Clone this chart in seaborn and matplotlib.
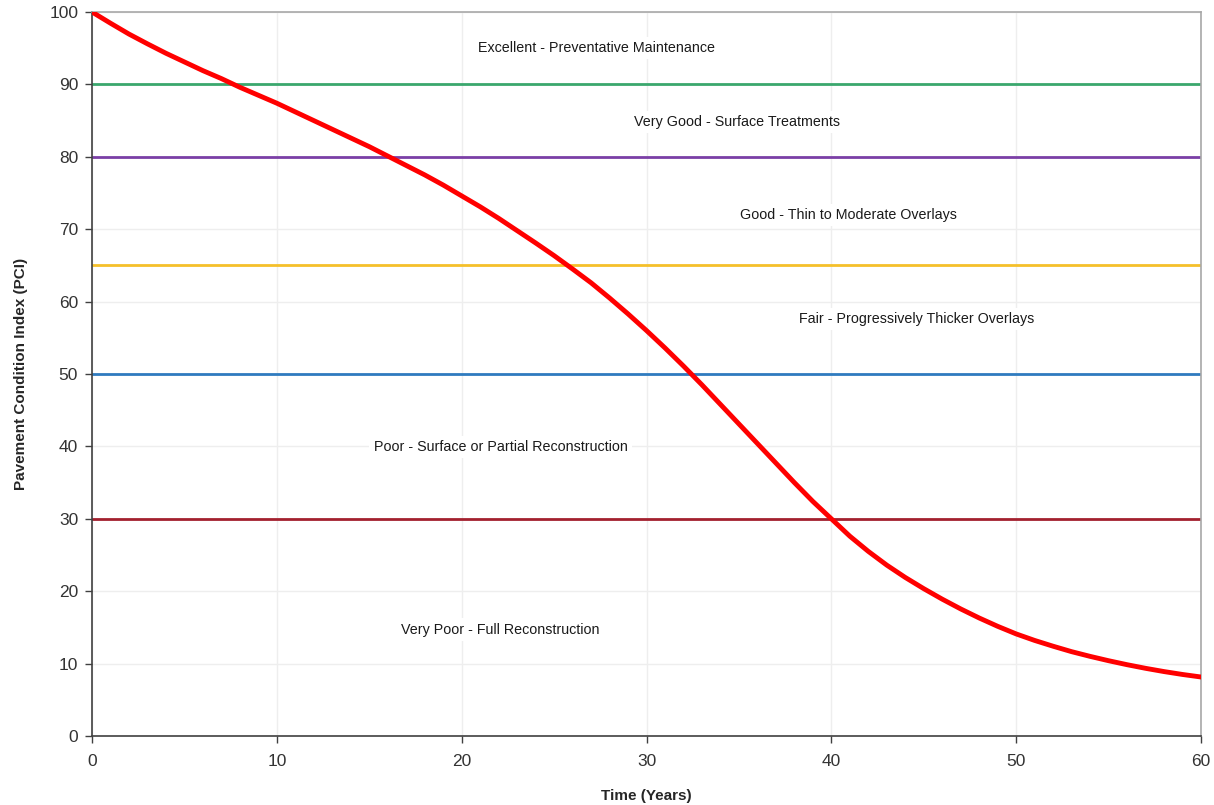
import matplotlib
matplotlib.use("Agg")
import matplotlib.pyplot as plt
import seaborn as sns
import pandas as pd

# Data (one value per year)
years = list(range(0, 61))
pci = [100.0, 98.45, 96.95, 95.6, 94.3, 93.1, 91.9, 90.8, 89.6, 88.5,
       87.4, 86.2, 85.0, 83.8, 82.6, 81.4, 80.1, 78.8, 77.5, 76.1,
       74.6, 73.1, 71.5, 69.8, 68.1, 66.35, 64.5, 62.6, 60.5, 58.3,
       56.0, 53.6, 51.1, 48.5, 45.8, 43.1, 40.4, 37.7, 35.0, 32.4,
       30.0, 27.6, 25.5, 23.6, 21.9, 20.35, 18.9, 17.55, 16.3, 15.15,
       14.1, 13.2, 12.4, 11.65, 11.0, 10.4, 9.85, 9.35, 8.9, 8.5, 8.15]

thresholds = [90, 80, 65, 50, 30]
threshold_colors = ["#3aa76d", "#7b3fa6", "#f5c02a", "#2f7bbf", "#a3202e"]

zone_labels = ["Excellent - Preventative Maintenance",
               "Very Good - Surface Treatments",
               "Good - Thin to Moderate Overlays",
               "Fair - Progressively Thicker Overlays",
               "Poor - Surface or Partial Reconstruction",
               "Very Poor - Full Reconstruction"]
label_x = [27.3, 34.9, 40.9, 44.6, 22.1, 22.1]
label_y = [95.0, 84.8, 72.0, 57.6, 39.9, 14.7]

x_ticks = [0, 10, 20, 30, 40, 50, 60]
y_ticks = [0, 10, 20, 30, 40, 50, 60, 70, 80, 90, 100]

sns.set_theme(style="white")
plt.rcParams['font.family'] = ['Liberation Sans', 'DejaVu Sans']

fig = plt.figure(figsize=(12.14, 8.05), dpi=100)
ax = fig.add_axes([0.0758, 0.0857, 0.9893 - 0.0758, 0.9851 - 0.0857])

ax.set_xlim(0, 60)
ax.set_ylim(0, 100)
ax.set_xticks(x_ticks)
ax.set_yticks(y_ticks)
ax.grid(True, color="#eeeeee", linewidth=1.0, zorder=0)
ax.set_axisbelow(True)

for t, c in zip(thresholds, threshold_colors):
    ax.axhline(t, color=c, linewidth=2.0, zorder=2)

for txt, lx, ly in zip(zone_labels, label_x, label_y):
    ax.text(lx, ly, txt, ha="center", va="center", fontsize=10.3, color="#1a1a1a",
            zorder=3,
            bbox=dict(facecolor="white", edgecolor="none", pad=3))

df = pd.DataFrame({"Time (Years)": years, "PCI": pci})
sns.lineplot(data=df, x="Time (Years)", y="PCI", ax=ax, color="#ff0000",
             linewidth=3.5, zorder=4)

ax.set_xlabel("Time (Years)", fontsize=11, fontweight="bold", labelpad=14)
ax.set_ylabel("Pavement Condition Index (PCI)", fontsize=11, fontweight="bold", labelpad=15)

ax.tick_params(axis="both", which="major", direction="out", length=5, width=1,
               color="#404040", labelsize=12.5, labelcolor="#333333", bottom=True, left=True)
ax.tick_params(axis="x", pad=8)
ax.tick_params(axis="y", pad=5)

for side in ["left", "bottom"]:
    ax.spines[side].set_color("#404040")
    ax.spines[side].set_linewidth(1.2)
for side in ["top", "right"]:
    ax.spines[side].set_visible(True)
    ax.spines[side].set_color("#a8a8a8")
    ax.spines[side].set_linewidth(1.2)

fig.savefig("out.png", dpi=100)
